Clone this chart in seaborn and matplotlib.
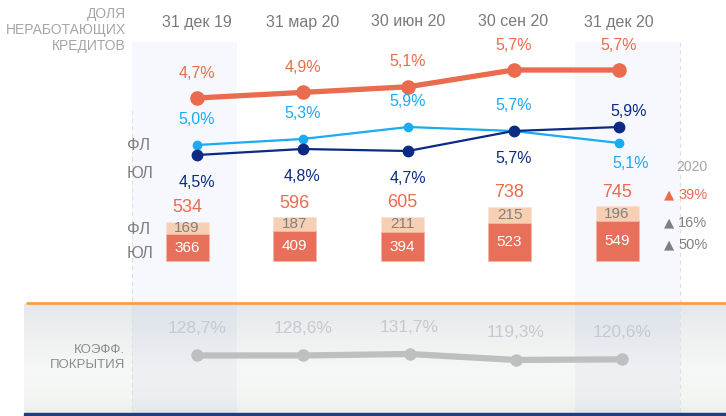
import numpy as np
import pandas as pd
import matplotlib
matplotlib.use('Agg')
import matplotlib.pyplot as plt
import matplotlib.transforms as mtransforms
from matplotlib.patches import Rectangle
import seaborn as sns

# Data
dates = ['31 дек 19', '31 мар 20', '30 июн 20', '30 сен 20', '31 дек 20']
npl_total = [4.7, 4.9, 5.1, 5.7, 5.7]
npl_fl = [5.0, 5.3, 5.9, 5.7, 5.1]
npl_yl = [4.5, 4.8, 4.7, 5.7, 5.9]
loans_fl = [169, 187, 211, 215, 196]
loans_yl = [366, 409, 394, 523, 549]
loans_total = [534, 596, 605, 738, 745]
coverage = [128.7, 128.6, 131.7, 119.3, 120.6]
growth_year = '2020'
growth_pct = [39, 16, 50]  # total, ФЛ, ЮЛ

# colours
C_TOTAL = '#EA6B4E'
C_FL = '#1AABF0'
C_YL = '#0B2A84'
C_BAR_YL = '#E8705A'
C_BAR_FL = '#F7D0B4'
C_GREY = '#808080'
C_LIGHT = '#A6A6A6'
C_COV = '#BEBFC1'
C_COV_TXT = '#C6CAD0'

W, H = 726, 416

sns.set_theme(style='white')
plt.rcParams['font.family'] = ['Liberation Sans', 'DejaVu Sans']

fig = plt.figure(figsize=(W / 100, H / 100), dpi=100)
fig.patch.set_facecolor('white')

# background axes in pixel coordinates
bg = fig.add_axes([0, 0, 1, 1])
bg.set_xlim(0, W)
bg.set_ylim(H, 0)
bg.set_axis_off()


def overlay_axes(x0_px, x_step, y_ref_px, y_ref_val, px_per_unit):
    ax = fig.add_axes([0, 0, 1, 1])
    ax.set_xlim(-x0_px / x_step, (W - x0_px) / x_step)
    ax.set_ylim(y_ref_val - (H - y_ref_px) / px_per_unit,
                y_ref_val + y_ref_px / px_per_unit)
    ax.set_axis_off()
    ax.patch.set_alpha(0)
    return ax


def fmt(v):
    return f'{v:.1f}'.replace('.', ',') + '%'


# lower panel gradient
ys = np.linspace(0, 1, 120)
stops = [0.0, 0.3, 0.6, 0.85, 1.0]
grey = np.interp(ys, stops, [0.90, 0.935, 0.965, 0.958, 0.925])
blue = np.interp(ys, stops, [0.925, 0.945, 0.967, 0.958, 0.925])
grad = np.stack([grey, grey + 0.008, blue], axis=1)[:, None, :]
grad = np.clip(grad, 0, 1)
bg.imshow(grad, extent=(24, W, 413, 304), aspect='auto', zorder=0)
bg.plot([27, W], [303, 303], color='#F4A04A', lw=2, zorder=3)
bg.add_patch(Rectangle((24, 412.5), W - 24, 4, color='#1F3C7C', zorder=3))

# highlight bands for first and last column
for x0 in (132, 575):
    bg.add_patch(Rectangle((x0, 42), 105, 262, color='#F6F8FD', zorder=1, lw=0))
    bg.add_patch(Rectangle((x0, 304), 105, 109, color='#3060C0', alpha=0.045,
                           zorder=1, lw=0))
bg.plot([132, 132], [110, 413], color='#DDE1E6', lw=0.8, ls=(0, (4, 3)), zorder=2)
bg.plot([680, 680], [42, 413], color='#DDE1E6', lw=0.8, ls=(0, (4, 3)), zorder=2)

# static labels
for i, line in enumerate(['ДОЛЯ', 'НЕРАБОТАЮЩИХ', 'КРЕДИТОВ']):
    bg.text(126, 14 + 16 * i, line, ha='right', va='center', fontsize=10,
            color=C_LIGHT)
for txt, y in [('ФЛ', 145), ('ЮЛ', 173), ('ФЛ', 229), ('ЮЛ', 253)]:
    bg.text(127, y, txt, ha='left', va='center', fontsize=12, color=C_GREY)
bg.text(125, 350, 'КОЭФФ.', ha='right', va='center', fontsize=9.5, color='#8C8C8C')
bg.text(125, 365, 'ПОКРЫТИЯ', ha='right', va='center', fontsize=9.5, color='#8C8C8C')

bg.text(692, 167, growth_year, ha='center', va='center', fontsize=10, color=C_LIGHT)
for pct, y, col in zip(growth_pct, [195, 223, 245], [C_TOTAL, '#7F7F7F', '#7F7F7F']):
    bg.text(669, y, '▲', ha='center', va='center', fontsize=9.5, color=col,
            family=['DejaVu Sans'])
    bg.text(678, y, f'{pct}%', ha='left', va='center', fontsize=10.5,
            color=col if col == C_TOTAL else C_GREY)

x_idx = list(range(len(dates)))

# bars
ax_bar = overlay_axes(187, 107.5, 261, 0, 0.0733)
bar_df = pd.DataFrame({'date': dates, 'total': loans_total, 'yl': loans_yl,
                       'fl': loans_fl})
sns.barplot(data=bar_df, x='date', y='total', order=dates, color=C_BAR_FL,
            saturation=1, width=0.4, ax=ax_bar, edgecolor='#FBE3D6', linewidth=0.6)
sns.barplot(data=bar_df, x='date', y='yl', order=dates, color=C_BAR_YL,
            saturation=1, width=0.4, ax=ax_bar, edgecolor='#F3B9A8', linewidth=0.6)
ax_bar.set_xlim(-187 / 107.5, (W - 187) / 107.5)
ax_bar.set_ylim(0 - (H - 261) / 0.0733, 261 / 0.0733)
ax_bar.set_axis_off()
for i in x_idx:
    ax_bar.annotate(str(loans_total[i]), (i, loans_total[i]), xytext=(0, 14),
                    textcoords='offset pixels', ha='center', va='center',
                    fontsize=13, color=C_TOTAL)
    ax_bar.annotate(str(loans_fl[i]), (i, loans_yl[i] + loans_fl[i] / 2),
                    xytext=(0, 0), textcoords='offset pixels', ha='center',
                    va='center', fontsize=11, color=C_GREY)
    ax_bar.annotate(str(loans_yl[i]), (i, loans_yl[i] / 2), xytext=(0, 0),
                    textcoords='offset pixels', ha='center', va='center',
                    fontsize=11, color='white')

# NPL lines: total on its own scale, ФЛ and ЮЛ share one
ax_tot = overlay_axes(197, 105.5, 98, 4.7, 28)
ax_fy = overlay_axes(197, 105.5, 155, 4.5, 20)

line_df = pd.DataFrame({'x': x_idx, 'total': npl_total, 'fl': npl_fl, 'yl': npl_yl})
sns.lineplot(data=line_df, x='x', y='total', ax=ax_tot, color=C_TOTAL, lw=3.8,
             marker='o', markersize=10.5, markeredgewidth=0)
sns.lineplot(data=line_df, x='x', y='fl', ax=ax_fy, color=C_FL, lw=1.6,
             marker='o', markersize=7, markeredgewidth=0)
sns.lineplot(data=line_df, x='x', y='yl', ax=ax_fy, color=C_YL, lw=1.6,
             marker='o', markersize=8.5, markeredgewidth=0)
for ax, top in [(ax_tot, (98, 4.7, 28)), (ax_fy, (155, 4.5, 20))]:
    ax.set_xlim(-197 / 105.5, (W - 197) / 105.5)
    ax.set_ylim(top[1] - (H - top[0]) / top[2], top[1] + top[0] / top[2])
    ax.set_axis_off()

fl_off = [(0, 25), (0, 25), (0, 25), (0, 25), (12, -20)]
yl_off = [(0, -27.5), (0, -27.5), (0, -27.5), (0, -27.5), (10, 16)]
for i in x_idx:
    ax_tot.annotate(fmt(npl_total[i]), (i, npl_total[i]), xytext=(0, 25),
                    textcoords='offset pixels', ha='center', va='center',
                    fontsize=11.5, color=C_TOTAL)
    ax_fy.annotate(fmt(npl_fl[i]), (i, npl_fl[i]), xytext=fl_off[i],
                   textcoords='offset pixels', ha='center', va='center',
                   fontsize=11.5, color=C_FL)
    ax_fy.annotate(fmt(npl_yl[i]), (i, npl_yl[i]), xytext=yl_off[i],
                   textcoords='offset pixels', ha='center', va='center',
                   fontsize=11.5, color=C_YL)

# date headers
trans = mtransforms.blended_transform_factory(ax_tot.transData, bg.transData)
for i, d in enumerate(dates):
    bg.text(i, 22, d, transform=trans, ha='center', va='center', fontsize=11.5,
            color='#7A7A7A')

# coverage ratio
ax_cov = overlay_axes(197, 106.3, 354, 131.7, 0.48)
cov_df = pd.DataFrame({'x': x_idx, 'cov': coverage})
sns.lineplot(data=cov_df, x='x', y='cov', ax=ax_cov, color=C_COV, lw=4.5,
             marker='o', markersize=9, markeredgewidth=0)
ax_cov.set_xlim(-197 / 106.3, (W - 197) / 106.3)
ax_cov.set_ylim(131.7 - (H - 354) / 0.48, 131.7 + 354 / 0.48)
ax_cov.set_axis_off()
for i in x_idx:
    ax_cov.annotate(fmt(coverage[i]), (i, coverage[i]), xytext=(0, 27),
                    textcoords='offset pixels', ha='center', va='center',
                    fontsize=12.5, color=C_COV_TXT)

fig.savefig('out.png', dpi=100)
